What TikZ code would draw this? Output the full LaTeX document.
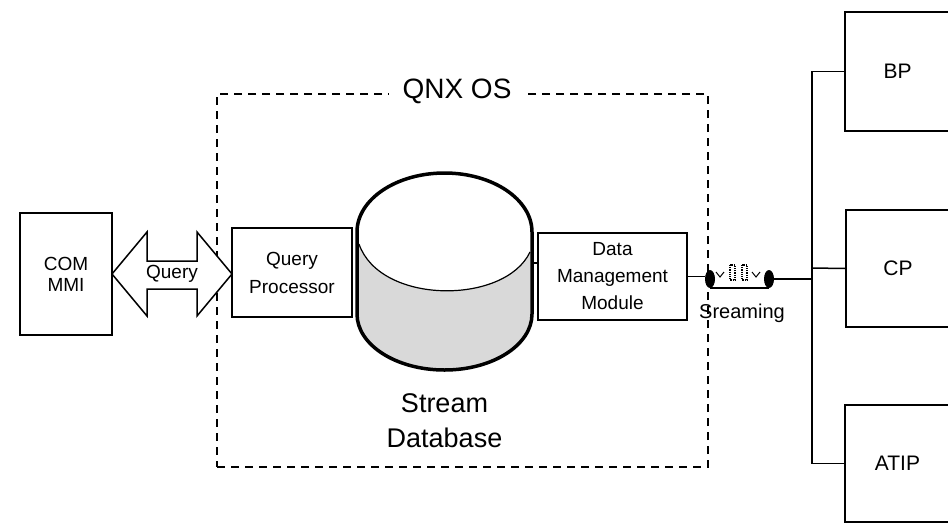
\documentclass[tikz,border=0pt]{standalone}
\usepackage{fontspec}
\setmainfont{Liberation Sans}
\usetikzlibrary{shapes.geometric}
\tikzset{
  box/.style={draw, line width=1.5pt, align=center, inner sep=0pt, font=\fontsize{19}{25}\selectfont},
  lbl/.style={align=center, inner sep=0pt, font=\fontsize{19}{24}\selectfont},
  link/.style={line width=1.5pt},
  wheel/.style={ellipse, fill, inner sep=0pt, minimum width=10pt, minimum height=18pt},
}
\begin{document}
\begin{tikzpicture}[x=1pt,y=-1pt]
\useasboundingbox (0,0) rectangle (948,531);
\clip (0,0) rectangle (948,531);

% QNX OS frame
\node[draw, line width=1.3pt, dash pattern=on 8pt off 6pt, minimum width=491pt, minimum height=373pt, inner sep=0pt] (qnx) at (462.5,280.5) {};
\node[fill=white, inner xsep=14pt, inner ysep=2pt, font=\fontsize{28}{30}\selectfont] (qnxt) at (457,91) {QNX OS};

% boxes
\node[box, minimum width=92pt, minimum height=122pt, font=\fontsize{19}{21}\selectfont] (com) at (66,274) {COM\\MMI};
\node[box, minimum width=120pt, minimum height=89pt, font=\fontsize{19}{28}\selectfont] (qp) at (292,272.5) {Query\\Processor};
\node[box, minimum width=149pt, minimum height=87pt, font=\fontsize{19}{27}\selectfont] (dmm) at (612.5,276.5) {Data\\Management\\Module};
\node[box, minimum width=105pt, minimum height=119pt, font=\fontsize{21}{25}\selectfont] (bp) at (897.5,71.5) {BP};
\node[box, minimum width=104pt, minimum height=117pt, font=\fontsize{21}{25}\selectfont] (cp) at (898,268.5) {CP};
\node[box, minimum width=105pt, minimum height=117pt, font=\fontsize{21}{25}\selectfont] (atip) at (897.5,463.5) {ATIP};

% double arrow Query
\draw[link, fill=white] (112,274) -- (147,232) -- (147,261) -- (197,261) -- (197,232) -- (232,274) -- (197,316) -- (197,289) -- (147,289) -- (147,316) -- cycle;
\node[lbl] (qlab) at (172,274) {Query};

% cylinder
\fill[black!15] (359,244) .. controls (380,305) and (505,305) .. (530,252) -- (532,252) -- (532,314) arc (0:180:87.5 and 56) -- (357,244) -- cycle;
\draw[line width=1.2pt] (359,244) .. controls (380,305) and (505,305) .. (530,252);
\draw[line width=3.5pt] (357,232) arc (180:360:87.5 and 59) -- (532,314) arc (0:180:87.5 and 56) -- cycle;
\node[align=center, inner sep=0pt, font=\fontsize{27}{35}\selectfont] (dbl) at (444.5,421) {Stream\\Database};

\coordinate (dbR) at (532,263);
\draw[link] (dbR) -- (dbR -| dmm.west);

% streaming
\node[wheel] (w1) at (710,279) {};
\node[wheel] (w2) at (769,279) {};
\draw[link] (dmm.east) -- (dmm.east -| w1.west);
\draw[link] (w1.south) -- (w2.south);
\draw[line width=1pt] (716,272) -- (720,277) -- (724,272);
\draw[line width=1.2pt, densely dotted] (730,265) rectangle (735,280);
\draw[line width=1.2pt, densely dotted] (742,265) rectangle (747,280);
\draw[line width=1pt] (752,272) -- (756,277) -- (760,272);
\node[lbl, font=\fontsize{20}{24}\selectfont] (strm) at (742,313) {Sreaming};

% bus
\coordinate (bus) at (812,268);
\draw[link] (w2.east) -- (w2.east -| bus);
\draw[link] (bp.west) -| (bus) |- (atip.west);
\draw[link] (cp.west) -- (bus);
\end{tikzpicture}
\end{document}
